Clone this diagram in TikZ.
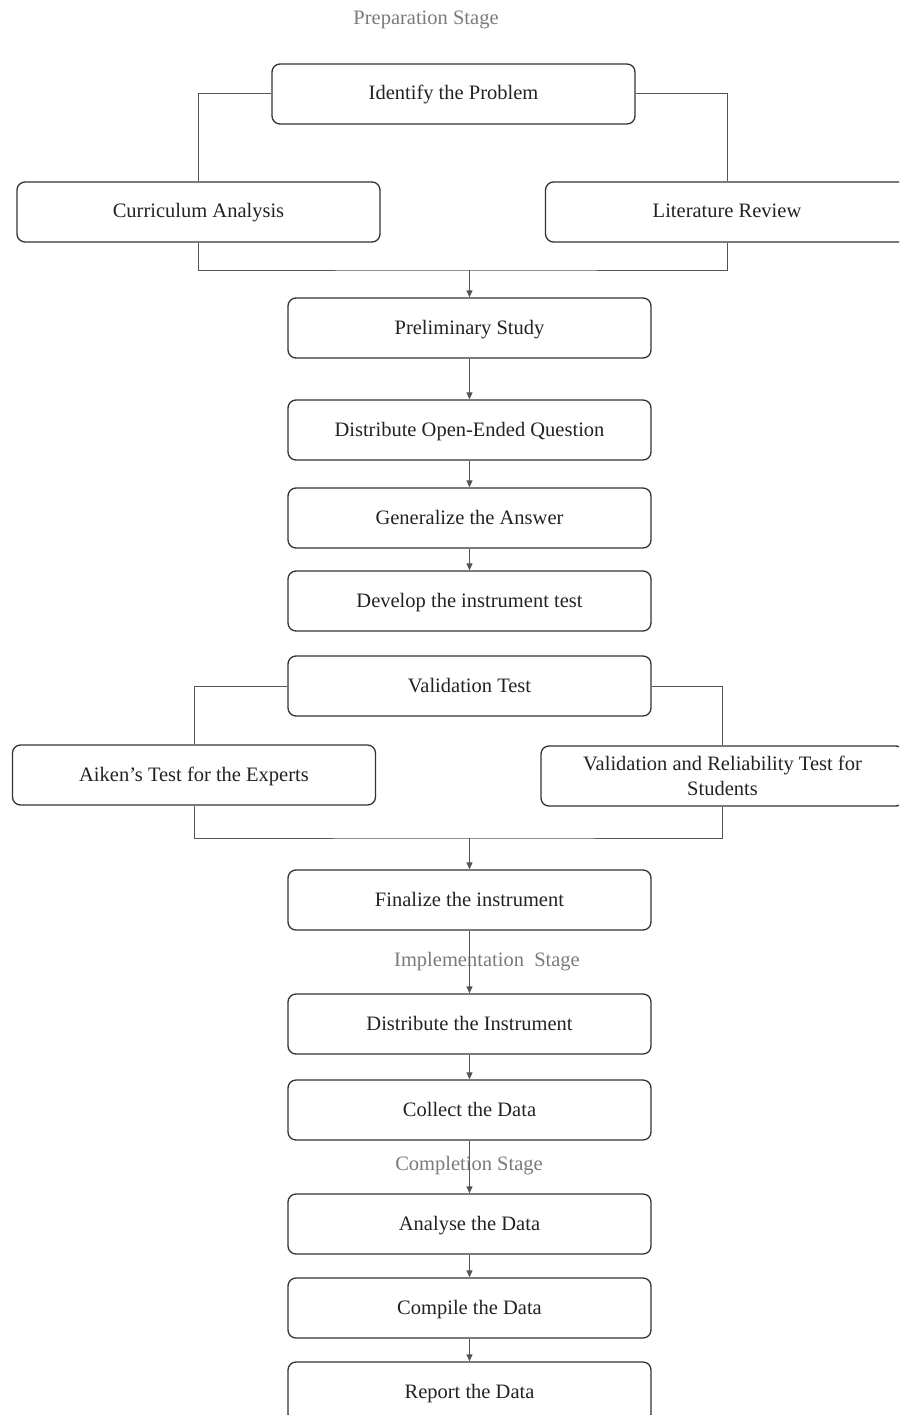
\documentclass[tikz,border=0pt]{standalone}
\usepackage{fontspec}
\setmainfont{Liberation Serif}
\usetikzlibrary{arrows.meta}
\definecolor{boxline}{HTML}{333333}
\definecolor{conn}{HTML}{555555}
\definecolor{txt}{HTML}{222222}
\definecolor{stagec}{HTML}{7A7A7A}
\begin{document}
\begin{tikzpicture}[x=1pt,y=-1pt,
  stepbase/.style={draw=boxline,line width=1.3pt,rounded corners=8pt,minimum width=363pt,minimum height=60pt,inner sep=0pt,align=center,text=txt,font=\fontsize{20.5}{24.5}\selectfont},
  stepbox/.style={stepbase,text height=14pt,text depth=2pt},
  stagelbl/.style={text=stagec,font=\fontsize{20.5}{24}\selectfont,inner sep=0pt},
  link/.style={draw=conn,line width=1pt},
  arr/.style={link,-{Triangle[length=7pt,width=6pt]}}]
\useasboundingbox (0,0) rectangle (899,1415);
\clip (0,0) rectangle (899,1415);
\node[stagelbl] (s1) at (426,20) {Preparation Stage};
\node[stepbox] (idp) at (453.5,94) {Identify the Problem};
\node[stepbox] (cur) at (198.5,212) {Curriculum Analysis};
\node[stepbox] (lit) at (727,212) {Literature Review};
\node[stepbox] (pre) at (469.5,328) {Preliminary Study};
\node[stepbox] (doq) at (469.5,430) {Distribute Open-Ended Question};
\node[stepbox] (gen) at (469.5,518) {Generalize the Answer};
\node[stepbox] (dev) at (469.5,601) {Develop the instrument test};
\node[stepbox] (val) at (469.5,686) {Validation Test};
\node[stepbox] (aik) at (194,775) {Aiken's Test for the Experts};
\node[stepbase] (vrs) at (722.5,776) {Validation and Reliability Test for\\Students};
\node[stepbox] (fin) at (469.5,900) {Finalize the instrument};
\node[stagelbl] (s2) at (487,962) {Implementation\ \ Stage};
\node[stepbox] (dis) at (469.5,1024) {Distribute the Instrument};
\node[stepbox] (col) at (469.5,1110) {Collect the Data};
\node[stagelbl] (s3) at (469,1166) {Completion Stage};
\node[stepbox] (ana) at (469.5,1224) {Analyse the Data};
\node[stepbox] (cmp) at (469.5,1308) {Compile the Data};
\node[stepbox] (rep) at (469.5,1392) {Report the Data};
% connectors
\coordinate (m1) at (469.5,270);
\coordinate (m2) at (469.5,838);
\draw[link] (idp.west) -| (cur.north);
\draw[link] (idp.east) -| (lit.north);
\draw[link] (cur.south) |- (m1) -| (lit.south);
\draw[arr] (m1) -- (pre.north);
\draw[arr] (pre) -- (doq);
\draw[arr] (doq) -- (gen);
\draw[arr] (gen) -- (dev);
\draw[link] (val.west) -| (aik.north);
\draw[link] (val.east) -| (vrs.north);
\draw[link] (aik.south) |- (m2) -| (vrs.south);
\draw[arr] (m2) -- (fin.north);
\draw[arr] (fin) -- (dis);
\draw[arr] (dis) -- (col);
\draw[arr] (col) -- (ana);
\draw[arr] (ana) -- (cmp);
\draw[arr] (cmp) -- (rep);
\end{tikzpicture}
\end{document}
